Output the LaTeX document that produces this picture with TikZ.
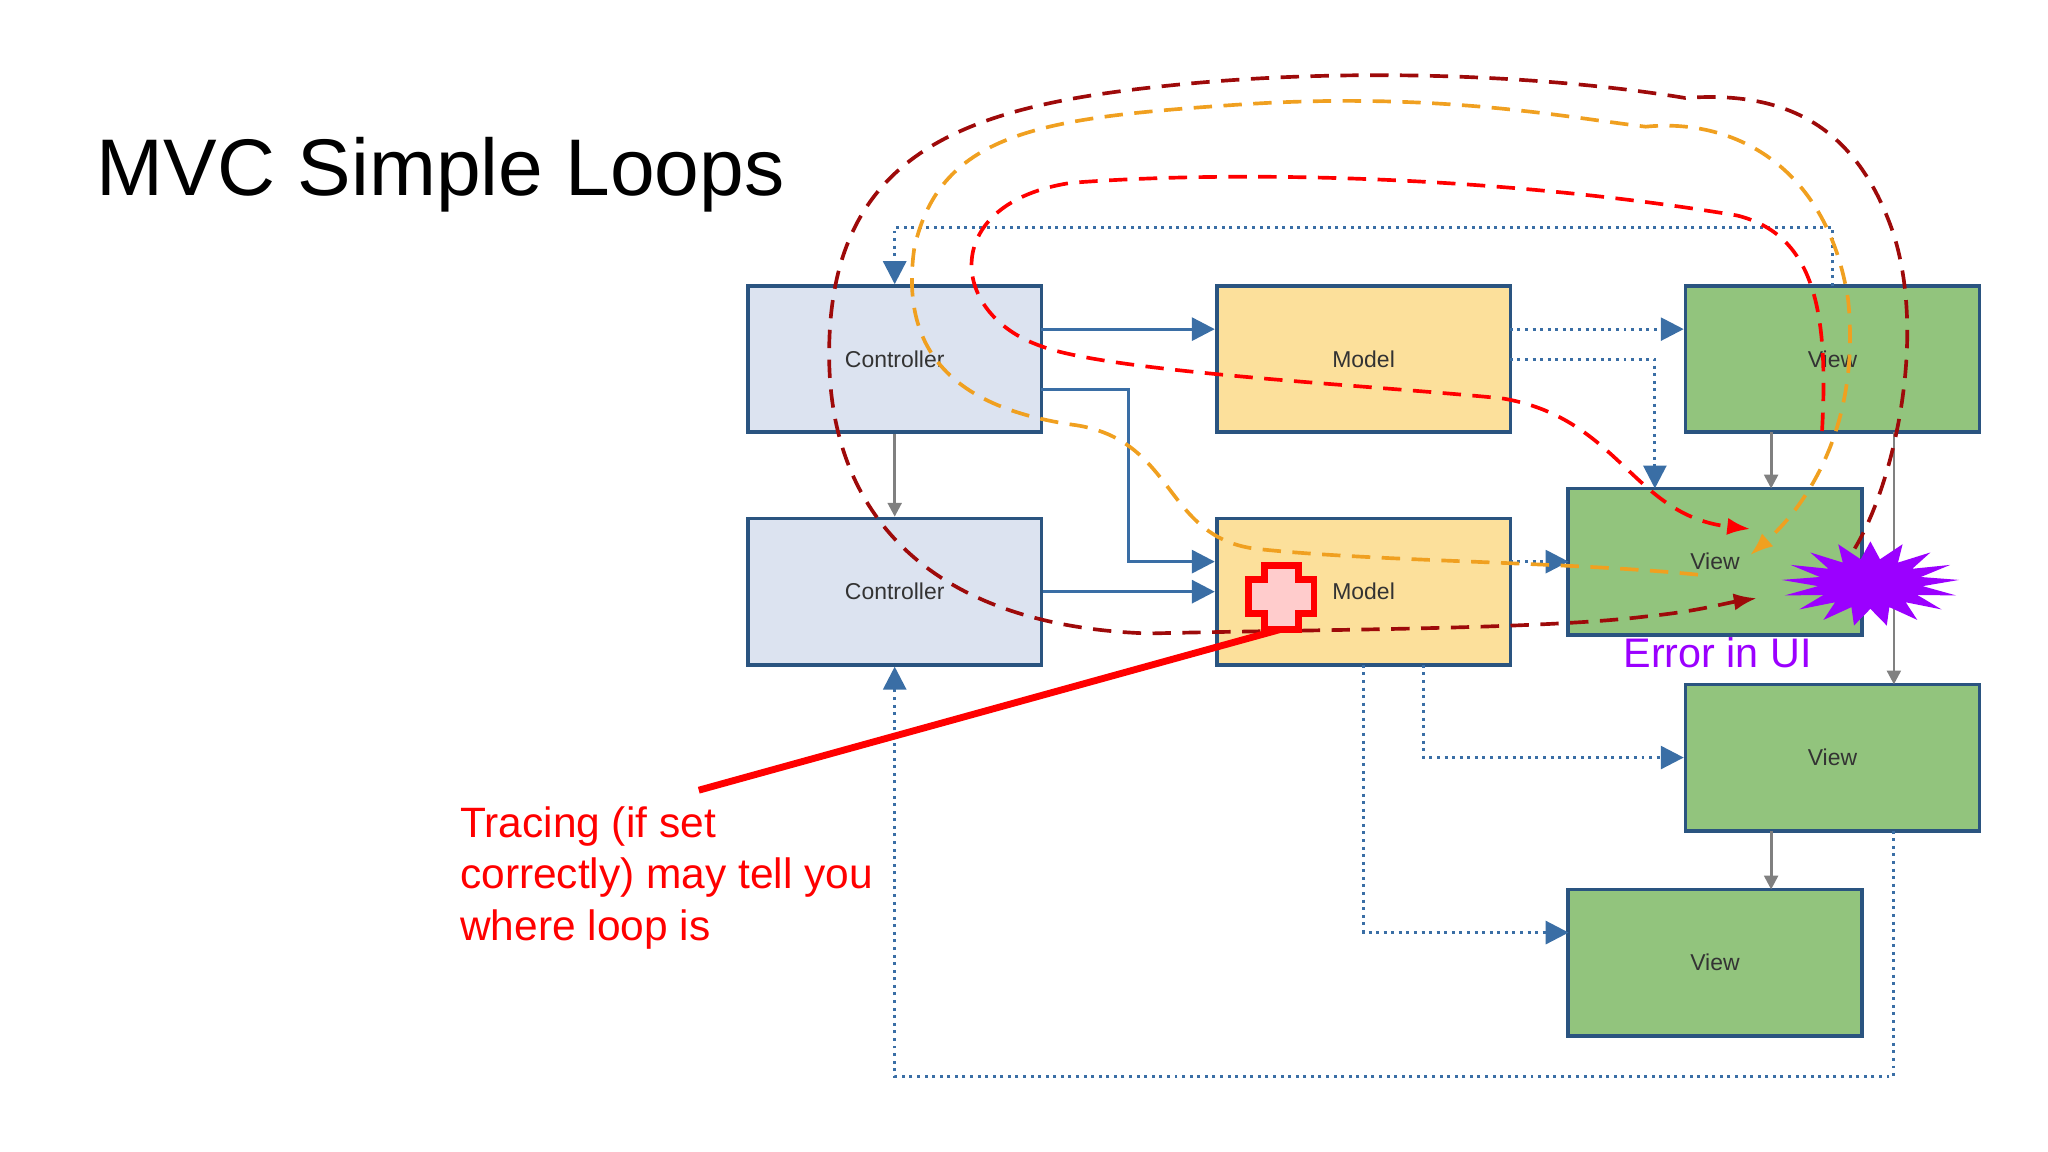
\documentclass[tikz,border=0pt]{standalone}
\usepackage{fontspec}
\setmainfont{Liberation Sans}
\usetikzlibrary{shapes.geometric,arrows.meta}
\definecolor{bord}{HTML}{2A5480}
\definecolor{cfill}{HTML}{DCE3F0}
\definecolor{mfill}{HTML}{FCE09B}
\definecolor{vfill}{HTML}{92C47D}
\definecolor{dblue}{HTML}{3A6EA5}
\definecolor{orng}{HTML}{F0A020}
\definecolor{dred}{HTML}{9E0A0A}
\definecolor{purp}{HTML}{9B00FF}
\begin{document}
\begin{tikzpicture}[x=0.2mm,y=-0.2mm,
 box/.style={draw=bord,line width=1.6pt,minimum width=45mm,minimum height=22.4mm,font=\fontsize{10}{12}\selectfont,text=black!80},
 ctrl/.style={box,fill=cfill}, model/.style={box,fill=mfill}, view/.style={box,fill=vfill},
 sol/.style={draw=dblue,line width=1.4pt,-{Triangle[length=10pt,width=10pt]}},
 dot/.style={draw=dblue,line width=1.3pt,dotted,-{Triangle[length=10pt,width=10pt]}},
 gry/.style={draw=gray,line width=1.2pt,-{Triangle[length=6pt,width=6pt]}},
 dsh/.style={line width=1.6pt,dash pattern=on 8pt off 5pt}]
\useasboundingbox (0,0) rectangle (1568,882);
\node[anchor=base west,font=\fontsize{35}{38}\selectfont] (title) at (68,150) {MVC Simple Loops};
\node[ctrl] (c1) at (685,275) {Controller};
\node[ctrl] (c2) at (685,453) {Controller};
\node[model] (m1) at (1044,275) {Model};
\node[model] (m2) at (1044,453) {Model};
\node[view] (v1) at (1403,275) {View};
\node[view] (v2) at (1313,430) {View};
\node[view] (v3) at (1403,580) {View};
\node[view] (v4) at (1313,737) {View};
% solid
\draw[sol] (797,252) -- (m1.west|-0,252);
\draw[sol] (797,298) -- (864,298) -- (864,430) -- (m2.west|-0,430);
\draw[sol] (c2) -- (m2);
\draw[gry] (c1) -- (c2);
% dotted
\draw[dot] (1156,252) -- (v1.west|-0,252);
\draw[dot] (1156,275) -- (1267,275) -- (1267,374);
\draw[dot] (1156,430) -- (1201,430);
\draw[dot] (1090,509) -- (1090,580) -- (v3.west);
\draw[dot] (1044,509) -- (1044,714) -- (1201,714);
\draw[dot] (1403,219) -- (1403,174) -- (685,174) -- (c1.north);
\draw[dot] (1450,636) -- (1450,824) -- (685,824) -- (c2.south);
\draw[gry] (1356,331) -- (1356,374);
\draw[gry] (1450,331) -- (1450,524);
\draw[gry] (1356,636) -- (1356,681);
% dashed loops
\draw[dsh,red,-{Latex[length=10pt]}] (1395,330) .. controls (1400,240) and (1390,180) .. (1330,165)
  .. controls (1150,135) and (950,130) .. (820,140) .. controls (720,155) and (725,240) .. (797,265)
  .. controls (850,285) and (1050,295) .. (1150,305) .. controls (1240,320) and (1250,395) .. (1340,405);
\draw[dsh,orng,-{Latex[length=10pt]}] (1300,440) .. controls (1200,430) and (1050,430) .. (960,420)
  .. controls (890,410) and (900,335) .. (820,325) .. controls (720,310) and (690,260) .. (700,190)
  .. controls (720,100) and (800,90) .. (950,80) .. controls (1100,70) and (1200,90) .. (1260,97)
  .. controls (1330,90) and (1400,130) .. (1415,230) .. controls (1425,330) and (1380,390) .. (1340,425);
\draw[dsh,dred,-{Latex[length=10pt]}] (1420,420) .. controls (1450,370) and (1475,260) .. (1450,180)
  .. controls (1420,90) and (1360,70) .. (1290,75) .. controls (1200,60) and (1050,50) .. (900,65)
  .. controls (750,80) and (640,110) .. (635,260) .. controls (630,400) and (720,480) .. (880,485)
  .. controls (1000,482) and (1180,482) .. (1260,472) .. controls (1300,468) and (1320,462) .. (1345,458);
% star
\node[star,star points=17,star point ratio=1.7,fill=purp,minimum size=13mm,inner sep=0,xscale=2.1] (err) at (1432,447) {};
\node[font=\fontsize{18}{20}\selectfont,text=purp] (errt) at (1315,500) {Error in UI};
% tracing
\draw[red,line width=3pt] (535,605) -- (980,482);
\draw[red,line width=3pt,fill=red!20,line join=miter]
 (968,433) -- (994,433) -- (994,444) -- (1006,444) -- (1006,470) -- (994,470) -- (994,482) -- (968,482)
 -- (968,470) -- (956,470) -- (956,444) -- (968,444) -- cycle;
\node[anchor=north west,align=left,text=red,font=\fontsize{18.5}{22.5}\selectfont,inner sep=0] (tr) at (352,617)
 {Tracing (if set\\correctly) may tell you\\where loop is};
\end{tikzpicture}
\end{document}
